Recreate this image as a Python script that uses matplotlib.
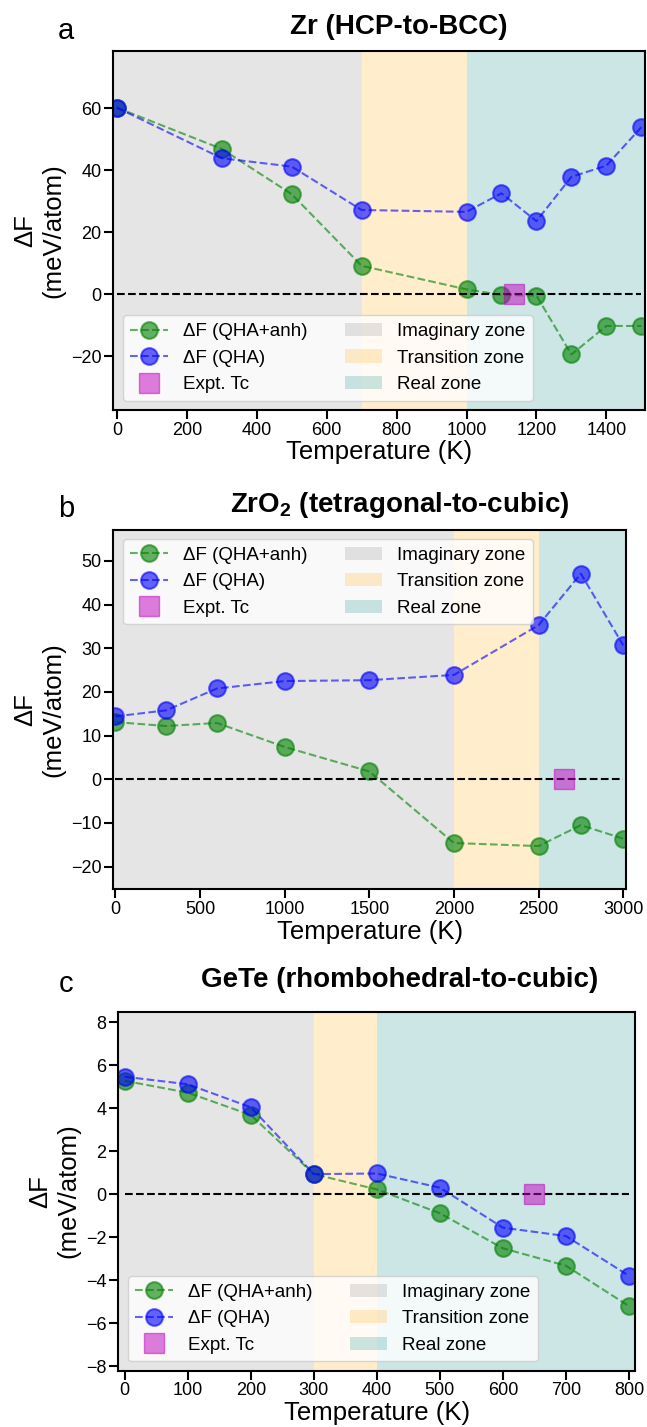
import matplotlib
matplotlib.use("Agg")
from matplotlib import pyplot as plt
from matplotlib.patches import Patch
from matplotlib.lines import Line2D

plt.rcParams['font.family'] = ['Liberation Sans', 'DejaVu Sans']
plt.rcParams['mathtext.fontset'] = 'custom'
plt.rcParams['mathtext.rm'] = 'Liberation Sans'
plt.rcParams['mathtext.bf'] = 'Liberation Sans:bold'

# panel a: Zr
zr_T = [0, 300, 500, 700, 1000, 1100, 1200, 1300, 1400, 1500]
zr_anh = [60.2, 46.9, 32.3, 9.2, 1.6, -0.2, -0.4, -19.4, -10.2, -10.2]
zr_qha = [60.2, 43.9, 41.2, 27.2, 26.6, 32.6, 23.6, 37.9, 41.5, 53.9]
zr_tc = 1135
zr_zones = [700, 1000]

# panel b: ZrO2
zro2_T = [0, 300, 600, 1000, 1500, 2000, 2500, 2750, 3000]
zro2_anh = [13.1, 12.2, 12.9, 7.4, 1.8, -14.6, -15.3, -10.5, -13.6]
zro2_qha = [14.4, 15.8, 20.8, 22.5, 22.7, 23.9, 35.3, 47.1, 30.7]
zro2_tc = 2650
zro2_zones = [2000, 2500]

# panel c: GeTe
gete_T = [0, 100, 200, 300, 400, 500, 600, 700, 800]
gete_anh = [5.28, 4.73, 3.69, 0.94, 0.23, -0.88, -2.51, -3.32, -5.2]
gete_qha = [5.47, 5.12, 4.05, 0.94, 0.97, 0.31, -1.55, -1.94, -3.79]
gete_tc = 650
gete_zones = [300, 400]

fig = plt.figure(figsize=(6.47, 14.27), dpi=100)

panels = [
    dict(T=zr_T, anh=zr_anh, qha=zr_qha, tc=zr_tc, zones=zr_zones,
         title='Zr (HCP-to-BCC)', letter='a',
         pos=[0.1753, 0.7127, 0.8213, 0.2516], xlim=(-10, 1510), ylim=(-37.3, 78.5),
         xticks=range(0, 1500, 200), yticks=range(-20, 61, 20), loc='lower left',
         ty=1 - 27 / 1427),
    dict(T=zro2_T, anh=zro2_anh, qha=zro2_qha, tc=zro2_tc, zones=zro2_zones,
         title=r'ZrO$_\mathbf{2}$ (tetragonal-to-cubic)', letter='b',
         pos=[0.1753, 0.3768, 0.7926, 0.2518], xlim=(-12, 3018), ylim=(-25.2, 57.1),
         xticks=range(0, 3001, 500), yticks=range(-20, 51, 10), loc='upper left',
         ty=1 - 505 / 1427),
    dict(T=gete_T, anh=gete_anh, qha=gete_qha, tc=gete_tc, zones=gete_zones,
         title='GeTe (rhombohedral-to-cubic)', letter='c',
         pos=[0.1830, 0.0395, 0.7989, 0.2516], xlim=(-10, 810), ylim=(-8.2, 8.5),
         xticks=range(0, 801, 100), yticks=range(-8, 9, 2), loc='lower left',
         ty=1 - 980 / 1427),
]

for p in panels:
    ax = fig.add_axes(p['pos'])
    x0, x1 = p['xlim']
    ax.axvspan(x0, p['zones'][0], color='grey', alpha=0.2, lw=0, zorder=0)
    ax.axvspan(p['zones'][0], p['zones'][1], color='orange', alpha=0.2, lw=0, zorder=0)
    ax.axvspan(p['zones'][1], x1, color='teal', alpha=0.2, lw=0, zorder=0)

    ax.plot(p['T'], p['anh'], 'o--', color='green', alpha=0.6, ms=12, mew=1.5, lw=1.5)
    ax.plot(p['T'], p['qha'], 'o--', color='blue', alpha=0.6, ms=12, mew=1.5, lw=1.5)
    ax.plot([0, p['T'][-1]], [0, 0], 'k--', lw=1.5)
    ax.plot([p['tc']], [0], 's', color='m', alpha=0.5, ms=15)

    ax.set_xlim(p['xlim'])
    ax.set_ylim(p['ylim'])
    ax.set_xticks(list(p['xticks']))
    ax.set_yticks(list(p['yticks']))
    ax.tick_params(direction='out', length=6.5, width=1.5, labelsize=13, pad=2)
    for s in ax.spines.values():
        s.set_linewidth(1.5)
    ax.set_xlabel('Temperature (K)', fontsize=18.5, labelpad=1)
    ax.set_ylabel('ΔF\n(meV/atom)', fontsize=18.5, labelpad=4)

    handles = [
        Line2D([], [], marker='o', ls='--', color='green', alpha=0.6, ms=12, mew=1.5, lw=1.5),
        Line2D([], [], marker='o', ls='--', color='blue', alpha=0.6, ms=12, mew=1.5, lw=1.5),
        Line2D([], [], marker='s', ls='', color='m', alpha=0.5, ms=15),
        Patch(color='grey', alpha=0.2, lw=0),
        Patch(color='orange', alpha=0.2, lw=0),
        Patch(color='teal', alpha=0.2, lw=0),
    ]
    labels = ['ΔF (QHA+anh)', 'ΔF (QHA)', 'Expt. Tc',
              'Imaginary zone', 'Transition zone', 'Real zone']
    ax.legend(handles, labels, loc=p['loc'], ncol=2, fontsize=13.5)

    fig.text(0.617, p['ty'], p['title'], fontsize=20, fontweight='bold',
             ha='center', va='center')
    fig.text(66 / 647, p['ty'] - 4 / 1427, p['letter'], fontsize=21,
             ha='center', va='center')

fig.savefig('out.png', dpi=100)
